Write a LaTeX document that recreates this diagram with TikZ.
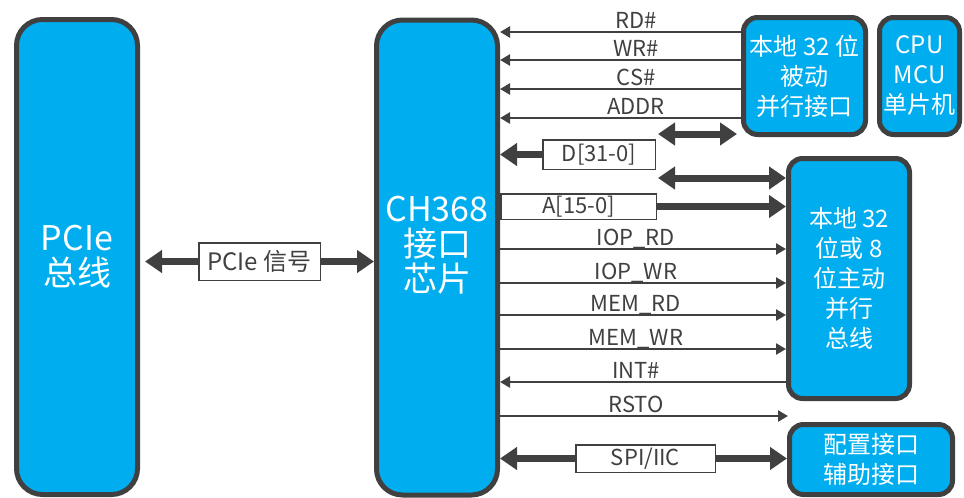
\documentclass[tikz,border=0pt]{standalone}
\usepackage{fontspec}
\setmainfont{Noto Sans CJK SC}
\usepackage{xcolor}
\usetikzlibrary{positioning,arrows.meta}
\definecolor{chipblue}{RGB}{0,174,239}
\definecolor{edgegray}{RGB}{64,64,64}

\begin{document}
\begin{tikzpicture}[x=1pt, y=-1pt,
    every node/.style={font=\fontsize{22}{30}\selectfont, text=edgegray},
    blk/.style={draw=edgegray, line width=5pt, fill=chipblue, rounded corners=14pt, text=white, align=center, inner sep=0pt, font=\fontsize{24}{30}\selectfont},
    tall/.style={blk, rounded corners=26pt, minimum width=121pt, minimum height=475pt, font=\fontsize{34}{35}\selectfont},
    big/.style={font=\fontsize{34}{35}\selectfont, text=white, align=center},
    tag/.style={draw=edgegray, line width=1.5pt, fill=white, inner sep=0pt},
    lbl/.style={anchor=base, inner sep=0pt},
    sig/.style={draw=edgegray, line width=2.8pt, >={Triangle[length=10pt,width=11pt]}},
    busarr/.style={draw=edgegray, line width=7pt, >={Triangle[length=17pt,width=22pt]}}
]
\useasboundingbox (0,0) rectangle (964,498);

\node[tall] (pcie) at (77,257) {PCIe\\总线};
\node[tall] (chip) at (437,257.5) {};
\node[big] (chiptxt) at (437,245) {CH368\\接口\\芯片};

\node[blk, minimum width=122pt, minimum height=117pt] (pas) at (804.5,76) {本地 32 位\\被动\\并行接口};
\node[blk, minimum width=80pt, minimum height=117pt, right=9pt of pas] (cpu) {CPU\\MCU\\单片机};
\node[blk, minimum width=121pt, minimum height=240pt] (act) at (849,278.5) {本地 32\\位或 8\\位主动\\并行\\总线};
\node[blk, minimum width=163pt, minimum height=70pt] (cfg) at (871,459.5) {配置接口\\辅助接口};

\node[tag, minimum width=121.5pt, minimum height=37.5pt, font=\fontsize{24}{30}\selectfont] (pciesig) at (259.5,261.5) {PCIe 信号};
\node[tag, minimum width=112.5pt, minimum height=29.5pt] (dbus) at (599,154.5) {D[31-0]};
\node[tag, minimum width=155.5pt, minimum height=25.5pt] (abus) at (578.5,206.5) {A[15-0]};
\node[tag, minimum width=139.5pt, minimum height=27.5pt] (spi) at (645.5,458.5) {SPI/IIC};

\coordinate (dlink) at (658,134);
\coordinate (alink) at (658,178);

\draw[busarr, <-, shorten <=5pt] (pcie.east |- pciesig.west) -- (pciesig.west);
\draw[busarr, ->] (pciesig.east) -- (chip.west |- pciesig.east);
\draw[busarr, ->] (dbus.west) -- (chip.east |- dbus.west);
\draw[busarr, <->, shorten >=4pt] (dlink) -- (pas.west |- dlink);
\draw[busarr, <->] (alink) -- (act.west |- alink);
\draw[busarr, ->] (abus.east) -- (act.west |- abus.east);
\draw[busarr, <-] (chip.east |- spi.west) -- (spi.west);
\draw[busarr, ->] (spi.east) -- (cfg.west |- spi.east);

\foreach \y/\name in {32/RD\#, 60/WR\#, 89/CS\#, 118/ADDR} {
  \draw[sig, <-] (chip.east |- 0,\y) -- (pas.west |- 0,\y);
  \node[lbl] (s\y) at (636,\y-4) {\name};
}
\foreach \y/\name in {249/IOP\_RD, 283/IOP\_WR, 315/MEM\_RD, 349/MEM\_WR} {
  \draw[sig, ->] (chip.east |- 0,\y) -- (act.west |- 0,\y);
  \node[lbl] (s\y) at (636,\y-4) {\name};
}
\draw[sig, <-] (chip.east |- 0,382) -- (act.west |- 0,382);
\node[lbl] (int) at (636,378) {INT\#};
\coordinate (rstoend) at (788,416);
\draw[sig, ->] (chip.east |- rstoend) -- (rstoend);
\node[lbl] (rsto) at (636,412) {RSTO};
\end{tikzpicture}
\end{document}
